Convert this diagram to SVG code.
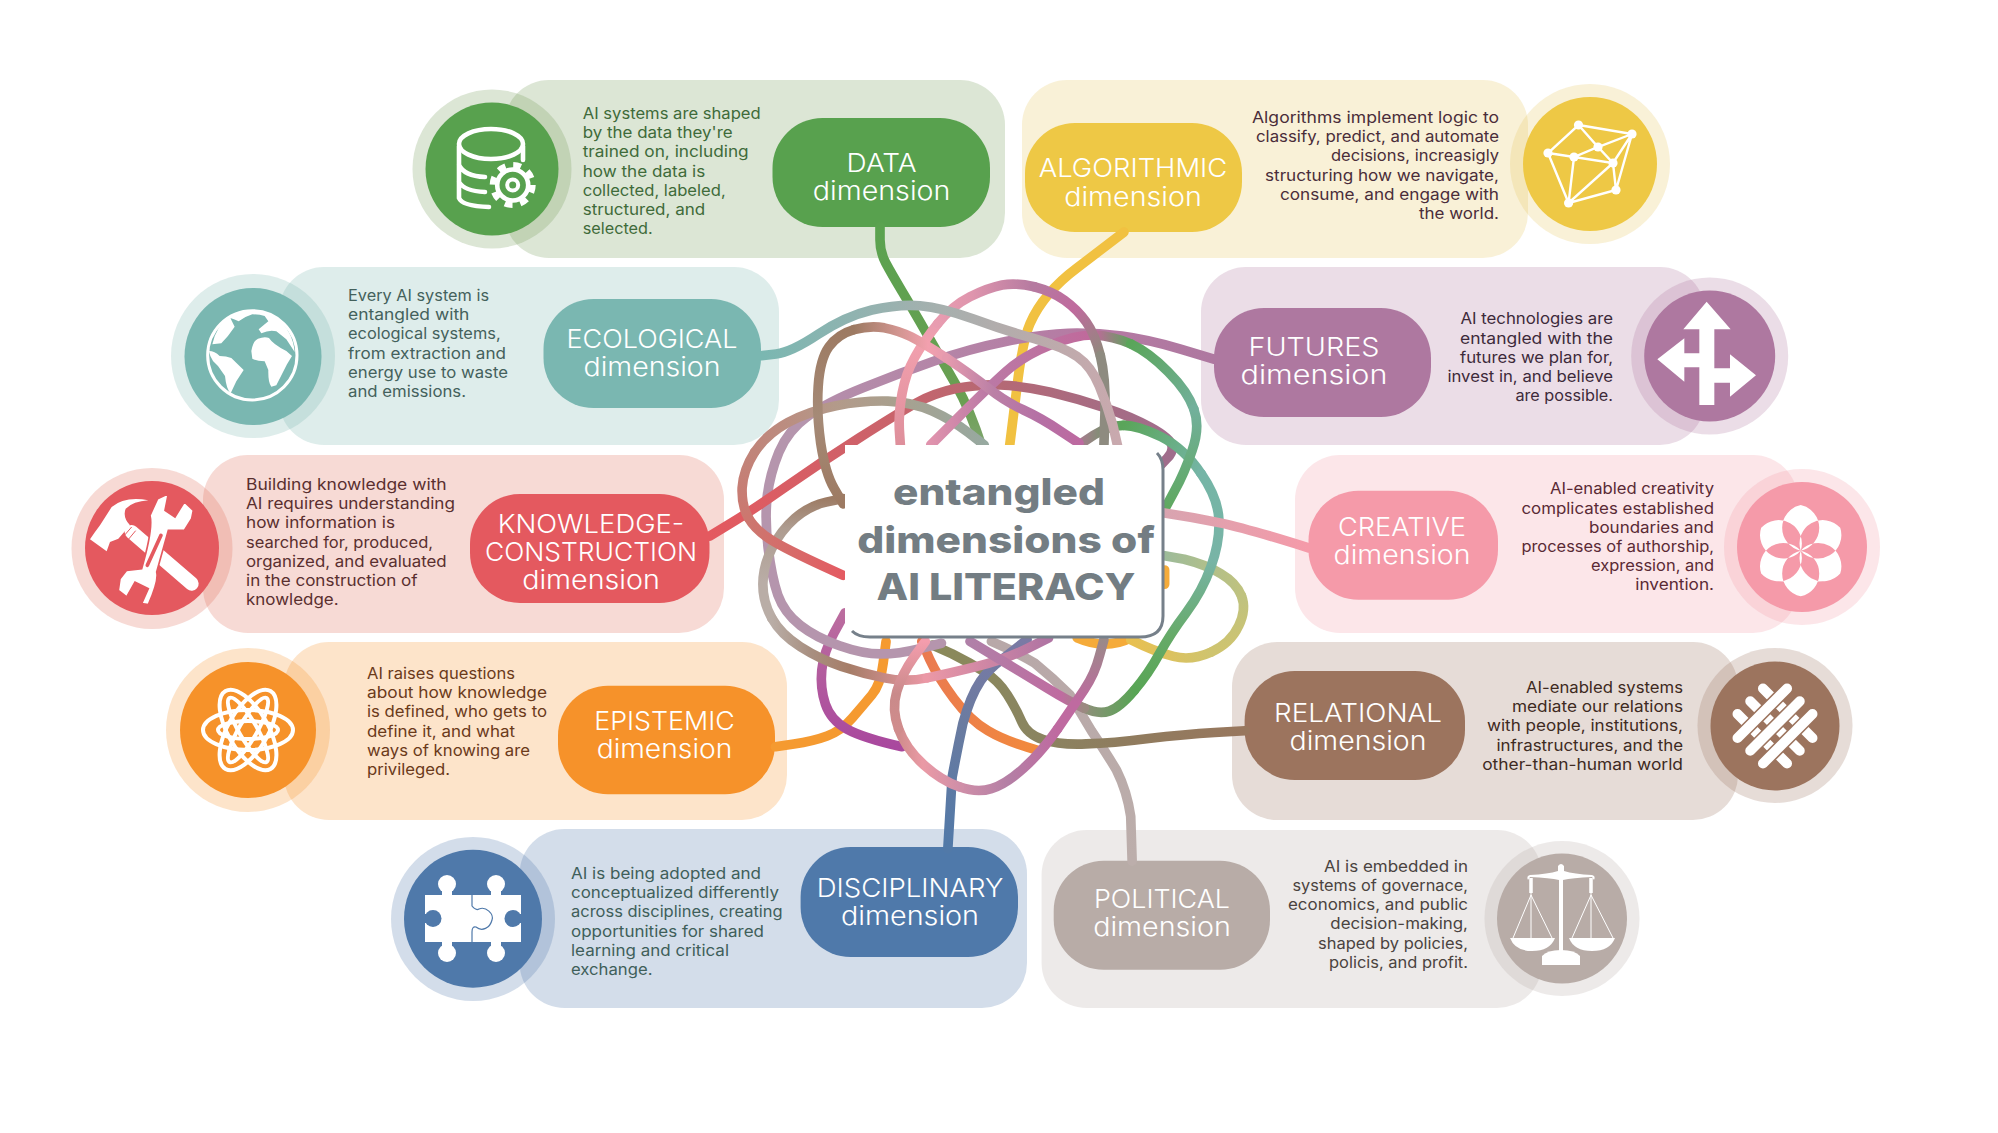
<svg xmlns="http://www.w3.org/2000/svg" width="1998" height="1133" viewBox="0 0 1998 1133">
<style>
.pn{fill-opacity:.25}
.w{fill:#fff}
.ws{fill:none;stroke:#fff}
.b{font-family:Inter,"Liberation Sans",sans-serif;font-size:15.5px;font-weight:400}
.p{font-family:Inter,"Liberation Sans",sans-serif;font-size:26px;font-weight:300;fill:#fff;text-anchor:middle}
.e{text-anchor:end}
.c{fill:none;stroke-width:27;stroke-linecap:round;stroke-linejoin:round}
.t{font-family:Inter,"Liberation Sans",sans-serif;font-size:37px;font-weight:800;fill:#737d83;text-anchor:middle}
</style>
<defs>
<linearGradient id="gData" gradientUnits="userSpaceOnUse" x1="0" y1="-120" x2="0" y2="490"><stop offset="0" stop-color="#5aa24f"/><stop offset=".8" stop-color="#6a9f52"/><stop offset="1" stop-color="#7fa56e"/></linearGradient>
<linearGradient id="gEco" gradientUnits="userSpaceOnUse" x1="115" y1="0" x2="1115" y2="0"><stop offset="0" stop-color="#7ab7b1"/><stop offset=".25" stop-color="#8fb3b0"/><stop offset=".5" stop-color="#a6b0ae"/><stop offset=".75" stop-color="#b8abab"/><stop offset="1" stop-color="#c9a9ae"/></linearGradient>
<linearGradient id="gFut" gradientUnits="userSpaceOnUse" x1="1385" y1="0" x2="245" y2="0"><stop offset="0" stop-color="#ae78a0"/><stop offset=".3" stop-color="#b57aa3"/><stop offset="1" stop-color="#b48fab"/></linearGradient>
<linearGradient id="m1" gradientUnits="userSpaceOnUse" x1="590" y1="0" x2="1050" y2="0"><stop offset="0" stop-color="#e093ad"/><stop offset=".35" stop-color="#bb79a5"/><stop offset="1" stop-color="#c0699b"/></linearGradient>
<linearGradient id="m2" gradientUnits="userSpaceOnUse" x1="1050" y1="0" x2="1150" y2="0"><stop offset="0" stop-color="#c0699b"/><stop offset="1" stop-color="#5aa55a"/></linearGradient>
<linearGradient id="m3" gradientUnits="userSpaceOnUse" x1="1150" y1="207" x2="1327" y2="390"><stop offset="0" stop-color="#5aa55a"/><stop offset="1" stop-color="#72b09b"/></linearGradient>
<linearGradient id="m4" gradientUnits="userSpaceOnUse" x1="0" y1="390" x2="0" y2="670"><stop offset="0" stop-color="#72b09b"/><stop offset="1" stop-color="#5fa860"/></linearGradient>
<linearGradient id="t1" gradientUnits="userSpaceOnUse" x1="1005" y1="0" x2="1130" y2="0"><stop offset="0" stop-color="#a87a8f"/><stop offset="1" stop-color="#5aa55a"/></linearGradient>
<linearGradient id="t2" gradientUnits="userSpaceOnUse" x1="1130" y1="435" x2="1347" y2="570"><stop offset="0" stop-color="#5aa55a"/><stop offset="1" stop-color="#75b5a6"/></linearGradient>
<linearGradient id="t3" gradientUnits="userSpaceOnUse" x1="0" y1="570" x2="0" y2="1177"><stop offset="0" stop-color="#75b5a6"/><stop offset=".4" stop-color="#78b4a6"/><stop offset=".75" stop-color="#66aa68"/><stop offset="1" stop-color="#58a555"/></linearGradient>
<linearGradient id="t4" gradientUnits="userSpaceOnUse" x1="1160" y1="0" x2="1020" y2="0"><stop offset="0" stop-color="#58a555"/><stop offset="1" stop-color="#8f8f7a"/></linearGradient>
<linearGradient id="t5" gradientUnits="userSpaceOnUse" x1="1020" y1="0" x2="700" y2="0"><stop offset="0" stop-color="#9a8a80"/><stop offset=".2" stop-color="#bf6ba0"/><stop offset="1" stop-color="#b080a8"/></linearGradient>
<linearGradient id="p1" gradientUnits="userSpaceOnUse" x1="0" y1="490" x2="0" y2="150"><stop offset="0" stop-color="#de8f9b"/><stop offset=".85" stop-color="#f2a0ae"/><stop offset="1" stop-color="#e89cb0"/></linearGradient>
<linearGradient id="p2" gradientUnits="userSpaceOnUse" x1="610" y1="0" x2="880" y2="0"><stop offset="0" stop-color="#e89cb0"/><stop offset=".35" stop-color="#df95ad"/><stop offset="1" stop-color="#b57aa0"/></linearGradient>
<linearGradient id="p3" gradientUnits="userSpaceOnUse" x1="880" y1="47" x2="1065" y2="240"><stop offset="0" stop-color="#b57aa0"/><stop offset=".45" stop-color="#c06a9e"/><stop offset="1" stop-color="#90897c"/></linearGradient>
<linearGradient id="q1" gradientUnits="userSpaceOnUse" x1="0" y1="1035" x2="0" y2="1285"><stop offset="0" stop-color="#9a8a88"/><stop offset=".7" stop-color="#bf6aa0"/><stop offset="1" stop-color="#bf6aa0"/></linearGradient>
<linearGradient id="q2" gradientUnits="userSpaceOnUse" x1="945" y1="0" x2="670" y2="0"><stop offset="0" stop-color="#bf6aa0"/><stop offset=".5" stop-color="#b47fa5"/><stop offset="1" stop-color="#d08fa8"/></linearGradient>
<linearGradient id="q3" gradientUnits="userSpaceOnUse" x1="670" y1="0" x2="500" y2="0"><stop offset="0" stop-color="#d08fa8"/><stop offset=".6" stop-color="#ea9aa5"/><stop offset="1" stop-color="#d08c8c"/></linearGradient>
<linearGradient id="q4" gradientUnits="userSpaceOnUse" x1="0" y1="1285" x2="0" y2="1040"><stop offset="0" stop-color="#d08c8c"/><stop offset=".4" stop-color="#c98a8a"/><stop offset="1" stop-color="#f49dad"/></linearGradient>
<linearGradient id="b1" gradientUnits="userSpaceOnUse" x1="0" y1="655" x2="0" y2="167"><stop offset="0" stop-color="#9d7a62"/><stop offset=".5" stop-color="#a58a77"/><stop offset="1" stop-color="#9d7a62"/></linearGradient>
<linearGradient id="b2" gradientUnits="userSpaceOnUse" x1="375" y1="0" x2="635" y2="0"><stop offset="0" stop-color="#9d7a62"/><stop offset=".5" stop-color="#d49692"/><stop offset=".8" stop-color="#f2a0ae"/><stop offset="1" stop-color="#e59aae"/></linearGradient>
<linearGradient id="b3" gradientUnits="userSpaceOnUse" x1="635" y1="0" x2="1005" y2="0"><stop offset="0" stop-color="#e59aae"/><stop offset=".35" stop-color="#bb80a6"/><stop offset=".7" stop-color="#b570a5"/><stop offset="1" stop-color="#bd69a0"/></linearGradient>
<linearGradient id="r1" gradientUnits="userSpaceOnUse" x1="740" y1="0" x2="97" y2="0"><stop offset="0" stop-color="#97a9a0"/><stop offset=".4" stop-color="#a9a08e"/><stop offset=".65" stop-color="#b39a8a"/><stop offset="1" stop-color="#c0857a"/></linearGradient>
<linearGradient id="r2" gradientUnits="userSpaceOnUse" x1="0" y1="510" x2="0" y2="695"><stop offset="0" stop-color="#c0857a"/><stop offset="1" stop-color="#cc776f"/></linearGradient>
<linearGradient id="r3" gradientUnits="userSpaceOnUse" x1="80" y1="0" x2="345" y2="0"><stop offset="0" stop-color="#cc776f"/><stop offset="1" stop-color="#e45b62"/></linearGradient>
<linearGradient id="gKno" gradientUnits="userSpaceOnUse" x1="-29" y1="0" x2="1265" y2="0"><stop offset="0" stop-color="#e4595f"/><stop offset=".4" stop-color="#c9636b"/><stop offset=".58" stop-color="#b86872"/><stop offset=".8" stop-color="#a96b80"/><stop offset="1" stop-color="#a06d8c"/></linearGradient>
<linearGradient id="u1" gradientUnits="userSpaceOnUse" x1="0" y1="640" x2="0" y2="975"><stop offset="0" stop-color="#9d7c65"/><stop offset=".25" stop-color="#ae9c90"/><stop offset=".7" stop-color="#b9ada6"/></linearGradient>
<linearGradient id="u2" gradientUnits="userSpaceOnUse" x1="145" y1="0" x2="580" y2="0"><stop offset="0" stop-color="#b9ada6"/><stop offset=".25" stop-color="#a88f80"/><stop offset=".5" stop-color="#a67d68"/><stop offset="1" stop-color="#eb98a6"/></linearGradient>
<linearGradient id="u3" gradientUnits="userSpaceOnUse" x1="580" y1="0" x2="920" y2="0"><stop offset="0" stop-color="#eb98a6"/><stop offset="1" stop-color="#b074a3"/></linearGradient>
<linearGradient id="gPur" gradientUnits="userSpaceOnUse" x1="0" y1="960" x2="0" y2="1335"><stop offset="0" stop-color="#bb6d9f"/><stop offset=".5" stop-color="#b25a9e"/><stop offset="1" stop-color="#a9489e"/></linearGradient>
<linearGradient id="gCor" gradientUnits="userSpaceOnUse" x1="565" y1="0" x2="890" y2="0"><stop offset="0" stop-color="#ea7a50"/><stop offset="1" stop-color="#f28a3c"/></linearGradient>
<linearGradient id="gRel" gradientUnits="userSpaceOnUse" x1="1470" y1="0" x2="595" y2="0"><stop offset="0" stop-color="#98775e"/><stop offset=".4" stop-color="#8f7c5e"/><stop offset=".7" stop-color="#8a8560"/><stop offset="1" stop-color="#8a8a5a"/></linearGradient>
<linearGradient id="gDis" gradientUnits="userSpaceOnUse" x1="0" y1="1620" x2="0" y2="1035"><stop offset="0" stop-color="#5179a8"/><stop offset=".6" stop-color="#6a7ba0"/><stop offset="1" stop-color="#7a7aa5"/></linearGradient>
<linearGradient id="gPol" gradientUnits="userSpaceOnUse" x1="0" y1="1655" x2="0" y2="1040"><stop offset="0" stop-color="#bcaeab"/><stop offset="1" stop-color="#b8a8a8"/></linearGradient>
<linearGradient id="y1" gradientUnits="userSpaceOnUse" x1="1245" y1="0" x2="1460" y2="0"><stop offset="0" stop-color="#9dbb9a"/><stop offset="1" stop-color="#bfc27f"/></linearGradient>
<linearGradient id="y2" gradientUnits="userSpaceOnUse" x1="0" y1="912" x2="0" y2="1070"><stop offset="0" stop-color="#bfc27f"/><stop offset="1" stop-color="#cfc46f"/></linearGradient>
<linearGradient id="y3" gradientUnits="userSpaceOnUse" x1="1375" y1="0" x2="1150" y2="0"><stop offset="0" stop-color="#cfc46f"/><stop offset="1" stop-color="#e8c050"/></linearGradient>
<linearGradient id="gCre" gradientUnits="userSpaceOnUse" x1="1648" y1="0" x2="1240" y2="0"><stop offset="0" stop-color="#f59aa9"/><stop offset="1" stop-color="#d8a4b0"/></linearGradient>
</defs>

<g id="node-data" fill="#58a14e">
<rect class="pn" fill="#739b57" x="504" y="80" width="501" height="178" rx="45"/>
<circle class="pn" fill="#739b57" cx="492" cy="169" r="79.5"/>
<circle cx="492" cy="169" r="66.5"/>
<g class="ws" stroke-width="4.6" stroke-linecap="round">
<ellipse cx="491" cy="144" rx="32" ry="15"/>
<path d="M523 146V160M459 146V198Q462 206 489 207M459 165Q464 176 485 177M459 182Q464 191 485 192"/>
<circle cx="512.7" cy="185" r="15.5"/>
<circle cx="512.7" cy="185" r="5.5" stroke-width="4"/>
<circle cx="512.7" cy="185" r="20" stroke-width="6" stroke-dasharray="7.8 7.9" stroke-linecap="butt"/>
</g>
<rect x="772.5" y="118" width="217.5" height="109" rx="50"/>
<text class="p" x="881.6" y="172" textLength="70" lengthAdjust="spacingAndGlyphs">DATA</text>
<text class="p" x="881.6" y="200" textLength="137.6" lengthAdjust="spacingAndGlyphs">dimension</text>
<g class="b" fill="#3f6b3a">
<text x="582.7" y="119" textLength="178" lengthAdjust="spacingAndGlyphs">AI systems are shaped</text>
<text x="582.7" y="138.2" textLength="150" lengthAdjust="spacingAndGlyphs">by the data they're</text>
<text x="582.7" y="157.4" textLength="166" lengthAdjust="spacingAndGlyphs">trained on, including</text>
<text x="582.7" y="176.6" textLength="122.6" lengthAdjust="spacingAndGlyphs">how the data is</text>
<text x="582.7" y="195.8" textLength="143" lengthAdjust="spacingAndGlyphs">collected, labeled,</text>
<text x="582.7" y="215" textLength="122.6" lengthAdjust="spacingAndGlyphs">structured, and</text>
<text x="582.7" y="234.2" textLength="70" lengthAdjust="spacingAndGlyphs">selected.</text>
</g>
</g>

<g id="node-algorithmic" fill="#eec845">
<rect class="pn" fill="#e7c75f" x="1022" y="80" width="506" height="178" rx="45"/>
<circle class="pn" fill="#e7c75f" cx="1590" cy="164" r="80"/>
<circle cx="1590" cy="164" r="67"/>
<g class="ws" stroke-width="2.4">
<path d="M1578.5 125L1632 134L1616 190L1568.6 203L1548 153ZM1578.5 125L1598 147L1632 134M1548 153L1574 157L1598 147L1613 163L1632 134M1574 157L1613 163L1616 190M1574 157L1568.6 203L1613 163"/>
</g>
<g class="w">
<circle cx="1578.5" cy="125" r="4.6"/><circle cx="1632" cy="134" r="4.6"/><circle cx="1548" cy="153" r="4.6"/><circle cx="1598" cy="147" r="4.6"/><circle cx="1574" cy="157" r="4.6"/><circle cx="1613" cy="163" r="4.6"/><circle cx="1616" cy="190" r="4.6"/><circle cx="1568.6" cy="203" r="4.6"/>
</g>
<rect x="1025" y="123" width="217" height="109" rx="50"/>
<text class="p" x="1133" y="177" textLength="188.6" lengthAdjust="spacingAndGlyphs">ALGORITHMIC</text>
<text class="p" x="1133" y="205.5" textLength="137.6" lengthAdjust="spacingAndGlyphs">dimension</text>
<g class="b e" fill="#4a2d3a">
<text x="1499" y="123" textLength="247" lengthAdjust="spacingAndGlyphs">Algorithms implement logic to</text>
<text x="1499" y="142.2" textLength="243" lengthAdjust="spacingAndGlyphs">classify, predict, and automate</text>
<text x="1499" y="161.4" textLength="168" lengthAdjust="spacingAndGlyphs">decisions, increasigly</text>
<text x="1499" y="180.6" textLength="234" lengthAdjust="spacingAndGlyphs">structuring how we navigate,</text>
<text x="1499" y="199.8" textLength="219" lengthAdjust="spacingAndGlyphs">consume, and engage with</text>
<text x="1499" y="219" textLength="80" lengthAdjust="spacingAndGlyphs">the world.</text>
</g>
</g>

<g id="node-ecological" fill="#7ab7b1">
<rect class="pn" x="279" y="267" width="500" height="178" rx="45"/>
<circle class="pn" cx="253" cy="356" r="82"/>
<circle cx="253" cy="356.5" r="68.5"/>
<g transform="translate(193 296) scale(.3333)">
<circle class="ws" cx="178" cy="178" r="134" stroke-width="9"/>
<path class="w" d="M58 145L85 142Q105 122 125 92L112 66Q125 70 137 76Q155 62 178 55Q200 55 215 60L226 76L197 100L205 112Q230 100 250 106L280 130L305 168Q300 105 250 65Q180 25 110 60Q70 90 58 145Z"/>
<path class="w" d="M48 165Q65 165 80 180Q100 180 115 186L152 222L130 256L113 292Q100 280 96 240L75 210L60 195Q50 180 48 165Z"/>
<path class="w" d="M175 165Q180 135 195 128Q215 120 228 126Q240 145 280 165L297 180L282 205L250 268L235 272Q225 260 226 222L215 196Q190 195 178 188Z"/>
</g>
<rect x="543.5" y="299" width="217.5" height="109" rx="50"/>
<text class="p" x="652" y="347.7" textLength="171" lengthAdjust="spacingAndGlyphs">ECOLOGICAL</text>
<text class="p" x="652" y="375.7" textLength="137" lengthAdjust="spacingAndGlyphs">dimension</text>
<g class="b" fill="#44615c">
<text x="348" y="301" textLength="141" lengthAdjust="spacingAndGlyphs">Every AI system is</text>
<text x="348" y="320.2" textLength="121.4" lengthAdjust="spacingAndGlyphs">entangled with</text>
<text x="348" y="339.4" textLength="152.6" lengthAdjust="spacingAndGlyphs">ecological systems,</text>
<text x="348" y="358.6" textLength="158" lengthAdjust="spacingAndGlyphs">from extraction and</text>
<text x="348" y="377.8" textLength="160" lengthAdjust="spacingAndGlyphs">energy use to waste</text>
<text x="348" y="397" textLength="118" lengthAdjust="spacingAndGlyphs">and emissions.</text>
</g>
</g>

<g id="node-futures" fill="#ae78a0">
<rect class="pn" x="1201" y="267" width="504" height="178" rx="45"/>
<circle class="pn" cx="1709.7" cy="356" r="78.5"/>
<circle cx="1709.7" cy="356" r="65.5"/>
<path class="w" transform="translate(1625 270) scale(.3333)" d="M245 95L317 178H268V295H315V253L393 316L315 380V338H268V405H223V292H178V335L97 268L178 205V250H223V178H175Z"/>
<rect x="1214" y="308" width="217" height="109" rx="50"/>
<text class="p" x="1314" y="355.7" textLength="131" lengthAdjust="spacingAndGlyphs">FUTURES</text>
<text class="p" x="1314" y="383.5" textLength="147" lengthAdjust="spacingAndGlyphs">dimension</text>
<g class="b e" fill="#3d2a3a">
<text x="1613" y="324.3" textLength="152.6" lengthAdjust="spacingAndGlyphs">AI technologies are</text>
<text x="1613" y="343.5" textLength="153" lengthAdjust="spacingAndGlyphs">entangled with the</text>
<text x="1613" y="362.7" textLength="153" lengthAdjust="spacingAndGlyphs">futures we plan for,</text>
<text x="1613" y="381.9" textLength="165.6" lengthAdjust="spacingAndGlyphs">invest in, and believe</text>
<text x="1613" y="401.1" textLength="97.6" lengthAdjust="spacingAndGlyphs">are possible.</text>
</g>
</g>

<g id="node-knowledge" fill="#e4595f">
<rect class="pn" fill="#df6b57" x="203" y="455" width="521" height="178" rx="45"/>
<circle class="pn" fill="#df6b57" cx="152" cy="548.5" r="80.5"/>
<circle cx="152" cy="548" r="67"/>
<g transform="translate(85 482) scale(.3333)">
<path d="M140 150L320 305" stroke="#fff" stroke-width="42" stroke-linecap="round"/>
<path class="w" d="M15 172L30 150L45 130L80 75Q120 42 190 55Q145 58 122 80Q112 105 135 130L100 170L75 180L65 208Z"/>
<path d="M108 172L140 135M122 182L152 146" stroke="#e4595f" stroke-width="3" fill="none"/>
<path class="w" stroke="#e4595f" stroke-width="5" d="M195 100L218 50L250 35L240 85L270 105L298 60L325 85L320 110L298 145L250 145L215 270Q222 295 190 368L170 365L190 320L150 300L125 345L100 325L105 290L125 265L170 260Q205 140 195 100Z"/>
<path d="M228 160L187 250" stroke="#e4595f" stroke-width="11" stroke-linecap="round" fill="none"/>
</g>
<rect x="470" y="494" width="239.5" height="109" rx="50"/>
<text class="p" x="591" y="532.7" textLength="186.6" lengthAdjust="spacingAndGlyphs">KNOWLEDGE-</text>
<text class="p" x="591" y="560.7" textLength="212" lengthAdjust="spacingAndGlyphs">CONSTRUCTION</text>
<text class="p" x="591" y="588.7" textLength="137.7" lengthAdjust="spacingAndGlyphs">dimension</text>
<g class="b" fill="#5a2f2f">
<text x="246" y="490" textLength="200.7" lengthAdjust="spacingAndGlyphs">Building knowledge with</text>
<text x="246" y="509.2" textLength="209" lengthAdjust="spacingAndGlyphs">AI requires understanding</text>
<text x="246" y="528.4" textLength="149" lengthAdjust="spacingAndGlyphs">how information is</text>
<text x="246" y="547.6" textLength="187" lengthAdjust="spacingAndGlyphs">searched for, produced,</text>
<text x="246" y="566.8" textLength="200.7" lengthAdjust="spacingAndGlyphs">organized, and evaluated</text>
<text x="246" y="586" textLength="171.6" lengthAdjust="spacingAndGlyphs">in the construction of</text>
<text x="246" y="605.2" textLength="92.6" lengthAdjust="spacingAndGlyphs">knowledge.</text>
</g>
</g>

<g id="node-creative" fill="#f59aa9">
<rect class="pn" x="1295" y="455" width="503" height="178" rx="45"/>
<circle class="pn" cx="1802" cy="547" r="78"/>
<circle cx="1802" cy="547" r="65"/>
<path class="w" fill-rule="evenodd" transform="translate(1800.7 550.7) scale(.3333)" d="M0 0A70 70 0 0 1 0 -137A70 70 0 0 1 0 0ZM0 0A70 70 0 0 1 118.6 -68.5A70 70 0 0 1 0 0ZM0 0A70 70 0 0 1 118.6 68.5A70 70 0 0 1 0 0ZM0 0A70 70 0 0 1 0 137A70 70 0 0 1 0 0ZM0 0A70 70 0 0 1 -118.6 68.5A70 70 0 0 1 0 0ZM0 0A70 70 0 0 1 -118.6 -68.5A70 70 0 0 1 0 0Z"/>
<rect x="1308.5" y="490.7" width="189.5" height="109" rx="50"/>
<text class="p" x="1402" y="536" textLength="128" lengthAdjust="spacingAndGlyphs">CREATIVE</text>
<text class="p" x="1402" y="564" textLength="137" lengthAdjust="spacingAndGlyphs">dimension</text>
<g class="b e" fill="#5a2a35">
<text x="1714" y="494.3" textLength="164" lengthAdjust="spacingAndGlyphs">AI-enabled creativity</text>
<text x="1714" y="513.5" textLength="192.6" lengthAdjust="spacingAndGlyphs">complicates established</text>
<text x="1714" y="532.7" textLength="125" lengthAdjust="spacingAndGlyphs">boundaries and</text>
<text x="1714" y="551.9" textLength="192.6" lengthAdjust="spacingAndGlyphs">processes of authorship,</text>
<text x="1714" y="571.1" textLength="123" lengthAdjust="spacingAndGlyphs">expression, and</text>
<text x="1714" y="590.3" textLength="78.7" lengthAdjust="spacingAndGlyphs">invention.</text>
</g>
</g>

<g id="node-epistemic" fill="#f6922a">
<rect class="pn" x="284" y="642" width="503" height="178" rx="45"/>
<circle class="pn" cx="248" cy="730" r="82"/>
<circle cx="248" cy="730" r="68"/>
<g class="ws" stroke-width="4" transform="translate(248 730)">
<ellipse rx="45" ry="20"/>
<ellipse rx="45" ry="20" transform="rotate(60)"/>
<ellipse rx="45" ry="20" transform="rotate(120)"/>
<ellipse rx="37" ry="9" transform="rotate(60)"/>
<ellipse rx="37" ry="9" transform="rotate(120)"/>
<ellipse rx="30" ry="9"/>
</g>
<rect x="558" y="685.7" width="217" height="108.5" rx="50"/>
<text class="p" x="664.5" y="730" textLength="140.6" lengthAdjust="spacingAndGlyphs">EPISTEMIC</text>
<text class="p" x="664.5" y="758" textLength="135.7" lengthAdjust="spacingAndGlyphs">dimension</text>
<g class="b" fill="#6b3a1a">
<text x="367" y="679" textLength="148" lengthAdjust="spacingAndGlyphs">AI raises questions</text>
<text x="367" y="698.2" textLength="180" lengthAdjust="spacingAndGlyphs">about how knowledge</text>
<text x="367" y="717.4" textLength="180" lengthAdjust="spacingAndGlyphs">is defined, who gets to</text>
<text x="367" y="736.6" textLength="148" lengthAdjust="spacingAndGlyphs">define it, and what</text>
<text x="367" y="755.8" textLength="163" lengthAdjust="spacingAndGlyphs">ways of knowing are</text>
<text x="367" y="775" textLength="83" lengthAdjust="spacingAndGlyphs">privileged.</text>
</g>
</g>

<g id="node-relational" fill="#9c745e">
<rect class="pn" x="1232" y="642" width="506" height="178" rx="45"/>
<circle class="pn" cx="1775" cy="725.5" r="77.5"/>
<circle cx="1775" cy="726" r="64.5"/>
<g transform="translate(1775 726) rotate(45)" fill="none" stroke-linecap="round">
<path d="M-35 -18H35M-35 0H35M-35 18H35" stroke="#fff" stroke-width="10"/>
<path d="M-18 -35V35M0 -35V35M18 -35V35" stroke="#9c745e" stroke-width="13"/>
<path d="M-18 -35V35M0 -35V35M18 -35V35" stroke="#fff" stroke-width="10"/>
</g>
<rect x="1244.6" y="671" width="220.4" height="109" rx="50"/>
<text class="p" x="1358" y="721.7" textLength="168" lengthAdjust="spacingAndGlyphs">RELATIONAL</text>
<text class="p" x="1358" y="750" textLength="137" lengthAdjust="spacingAndGlyphs">dimension</text>
<g class="b e" fill="#3e2a22">
<text x="1683" y="693" textLength="157" lengthAdjust="spacingAndGlyphs">AI-enabled systems</text>
<text x="1683" y="712.2" textLength="171" lengthAdjust="spacingAndGlyphs">mediate our relations</text>
<text x="1683" y="731.4" textLength="196" lengthAdjust="spacingAndGlyphs">with people, institutions,</text>
<text x="1683" y="750.6" textLength="186.5" lengthAdjust="spacingAndGlyphs">infrastructures, and the</text>
<text x="1683" y="769.8" textLength="200.8" lengthAdjust="spacingAndGlyphs">other-than-human world</text>
</g>
</g>

<g id="node-disciplinary" fill="#4f79aa">
<rect class="pn" x="519.6" y="829" width="507.4" height="179" rx="45"/>
<circle class="pn" cx="473" cy="919" r="82"/>
<circle cx="473" cy="918.7" r="69"/>
<g class="w">
<rect x="425" y="895" width="96" height="47"/>
<circle cx="447" cy="884" r="9"/><rect x="442" y="884" width="10" height="12"/>
<circle cx="447" cy="953" r="9"/><rect x="442" y="940" width="10" height="12"/>
<circle cx="496" cy="884" r="9"/><rect x="491" y="884" width="10" height="12"/>
<circle cx="496" cy="953" r="9"/><rect x="491" y="940" width="10" height="12"/>
</g>
<circle cx="433" cy="918.5" r="8.5"/><rect x="423" y="914" width="8" height="9"/>
<circle cx="513" cy="918.5" r="8.5"/><rect x="515" y="914" width="8" height="9"/>
<path d="M472 895V906Q476 911 479 909C486 906 494 914 492 920C490 928 482 932 476 927Q472 926 472 932V942" fill="none" stroke="#4f79aa" stroke-width="1.2"/>
<rect x="800.6" y="847" width="217.4" height="110" rx="50"/>
<text class="p" x="910" y="897" textLength="186.5" lengthAdjust="spacingAndGlyphs">DISCIPLINARY</text>
<text class="p" x="910" y="925" textLength="138" lengthAdjust="spacingAndGlyphs">dimension</text>
<g class="b" fill="#3f5f5a">
<text x="571" y="879" textLength="190" lengthAdjust="spacingAndGlyphs">AI is being adopted and</text>
<text x="571" y="898.2" textLength="208" lengthAdjust="spacingAndGlyphs">conceptualized differently</text>
<text x="571" y="917.4" textLength="211.6" lengthAdjust="spacingAndGlyphs">across disciplines, creating</text>
<text x="571" y="936.6" textLength="193" lengthAdjust="spacingAndGlyphs">opportunities for shared</text>
<text x="571" y="955.8" textLength="158" lengthAdjust="spacingAndGlyphs">learning and critical</text>
<text x="571" y="975" textLength="81.5" lengthAdjust="spacingAndGlyphs">exchange.</text>
</g>
</g>

<g id="node-political" fill="#b8aca7">
<rect class="pn" x="1041.6" y="830" width="500.4" height="178" rx="45"/>
<circle class="pn" cx="1562" cy="918.5" r="77.5"/>
<circle cx="1562" cy="918.5" r="65"/>
<g class="w">
<path d="M1559 952V880Q1550 878 1530 877L1528 880Q1526 876 1530 875Q1548 874 1558 871V866Q1561 862 1564 866V871Q1574 874 1592 875Q1596 876 1594 880L1592 877Q1572 878 1563 880V952Z"/>
<path d="M1510 938H1555Q1550 951 1532 951Q1515 951 1510 938Z"/>
<path d="M1569 938H1615Q1610 951 1592 951Q1574 951 1569 938Z"/>
<path d="M1542 956Q1547 950 1561 950Q1575 950 1580 956V965H1542Z"/>
</g>
<path d="M1531 878V895M1591 878V895M1531 895L1513 938M1531 895L1552 938M1531 895V938M1591 895L1572 938M1591 895L1613 938M1591 895V938" stroke="#fff" fill="none" stroke-width="1"/>
<path d="M1531 878V893M1591 878V893" stroke="#fff" fill="none" stroke-width="3.5"/>
<rect x="1053.7" y="860.7" width="216.3" height="109" rx="50"/>
<text class="p" x="1162" y="908" textLength="136" lengthAdjust="spacingAndGlyphs">POLITICAL</text>
<text class="p" x="1162" y="936" textLength="137.7" lengthAdjust="spacingAndGlyphs">dimension</text>
<g class="b e" fill="#4a4340">
<text x="1468" y="871.7" textLength="144" lengthAdjust="spacingAndGlyphs">AI is embedded in</text>
<text x="1468" y="890.9" textLength="175.5" lengthAdjust="spacingAndGlyphs">systems of governace,</text>
<text x="1468" y="910.1" textLength="180" lengthAdjust="spacingAndGlyphs">economics, and public</text>
<text x="1468" y="929.3" textLength="137.7" lengthAdjust="spacingAndGlyphs">decision-making,</text>
<text x="1468" y="948.5" textLength="150" lengthAdjust="spacingAndGlyphs">shaped by policies,</text>
<text x="1468" y="967.7" textLength="139" lengthAdjust="spacingAndGlyphs">policis, and profit.</text>
</g>
</g>

<g id="connectors" transform="translate(720 270) scale(.35714)">
<path class="c" stroke="#f5ab3a" d="M1000 1030Q1080 1065 1150 1030M1245 840V880"/>
<path id="c-data" class="c" stroke="url(#gData)" d="M448 -120L448 -85Q448 -50 464 -20Q480 10 510 60Q540 110 580 180L660 320Q700 390 735 500"/>
<path id="c-algorithmic" class="c" stroke="#f1c141" d="M1131 -106L1000 -6Q905 65 868 150Q850 190 835 300L810 500"/>
<path id="c-political" class="c" stroke="url(#gPol)" d="M1154 1655L1150 1530Q1140 1460 1110 1400Q1080 1350 1040 1290Q1010 1240 980 1190Q935 1145 880 1100Q830 1070 760 1040"/>
<path id="c-relational" class="c" stroke="url(#gRel)" d="M1470 1290L1385 1295Q1300 1300 1200 1312Q1100 1325 1025 1327Q950 1330 905 1315Q860 1300 845 1265Q830 1230 805 1190Q780 1150 740 1125Q700 1100 650 1075L595 1050"/>
<path class="c" stroke="url(#gCor)" d="M565 1040L587 1090Q610 1140 655 1200Q700 1260 750 1290Q800 1320 890 1345"/>
<path id="c-disciplinary" class="c" stroke="url(#gDis)" d="M638 1620L650 1420Q665 1340 680 1270Q700 1195 730 1150Q755 1115 790 1090L860 1035"/>
<path id="c-epistemic" class="c" stroke="#f59a30" d="M155 1335L207 1327Q260 1320 300 1305Q340 1290 370 1255Q400 1220 425 1190Q450 1160 457 1100L465 1040"/>
<path class="c" stroke="url(#gPur)" d="M350 960L320 1015Q290 1070 285 1120Q280 1170 295 1215Q310 1260 355 1285Q400 1310 510 1335"/>
<g id="c-futures">
<path class="c" stroke="url(#gFut)" d="M1385 250L1292 222Q1200 195 1125 185Q1050 175 975 177Q900 180 800 200Q700 220 600 255Q500 290 400 330Q300 370 245 410"/>
<path class="c" stroke="#b595ad" d="M245 410Q190 450 165 510Q140 570 132 635Q125 700 135 780Q145 860 162 910Q180 960 225 995Q270 1030 335 1052Q400 1075 450 1075Q500 1075 560 1060L620 1045"/>
</g>
<g>
<path class="c" stroke="url(#u1)" d="M345 640L297 650Q250 660 210 695Q170 730 145 780Q120 830 120 880Q120 930 145 975"/>
<path class="c" stroke="url(#u2)" d="M145 975Q170 1020 225 1055Q280 1090 340 1110Q400 1130 460 1142Q520 1155 580 1142"/>
<path class="c" stroke="url(#u3)" d="M580 1142Q640 1130 720 1110Q800 1090 860 1060L920 1030"/>
</g>
<path id="c-knowledge" class="c" stroke="url(#gKno)" d="M-29 745L25 712Q80 680 180 610Q280 540 390 470Q500 400 550 372Q600 345 660 332Q720 320 785 322Q850 325 925 342Q1000 360 1075 385Q1150 410 1205 440Q1260 470 1265 490Q1270 510 1252 527L1235 545"/>
<g>
<path class="c" stroke="url(#r1)" d="M740 490L695 455Q650 420 595 395Q540 370 470 367Q400 365 325 380Q250 395 190 427Q130 460 97 510"/>
<path class="c" stroke="url(#r2)" d="M97 510Q65 560 62 610Q60 660 80 695"/>
<path class="c" stroke="url(#r3)" d="M80 695Q100 730 150 760Q200 790 345 855"/>
</g>
<g>
<path class="c" stroke="url(#y1)" d="M1245 800L1300 810Q1360 825 1402 850Q1445 875 1460 912"/>
<path class="c" stroke="url(#y2)" d="M1460 912Q1475 950 1452 997Q1430 1045 1375 1070"/>
<path class="c" stroke="url(#y3)" d="M1375 1070Q1320 1095 1270 1082Q1220 1070 1150 1035"/>
</g>
<g>
<path class="c" stroke="url(#t1)" d="M1005 490L1047 462Q1090 435 1130 435"/>
<path class="c" stroke="url(#t2)" d="M1130 435Q1170 435 1235 467Q1300 500 1347 570"/>
<path class="c" stroke="url(#t3)" d="M1347 570Q1395 640 1397 700Q1400 760 1375 830Q1350 900 1305 960Q1260 1020 1230 1075Q1200 1130 1160 1177"/>
<path class="c" stroke="url(#t4)" d="M1160 1177Q1120 1225 1090 1235Q1060 1245 1020 1227"/>
<path class="c" stroke="url(#t5)" d="M1020 1227Q980 1210 915 1170Q850 1130 775 1085L700 1040"/>
</g>
<g>
<path class="c" stroke="url(#m1)" d="M590 490L670 410Q750 330 800 285Q850 240 925 210Q1000 180 1050 182"/>
<path class="c" stroke="url(#m2)" d="M1050 182Q1100 185 1150 207"/>
<path class="c" stroke="url(#m3)" d="M1150 207Q1200 230 1255 285Q1310 340 1327 390"/>
<path class="c" stroke="url(#m4)" d="M1327 390Q1345 440 1322 505Q1300 570 1272 620L1245 670"/>
</g>
<path id="c-creative" class="c" stroke="url(#gCre)" d="M1648 778Q1480 725 1400 708Q1320 692 1240 680"/>
<g>
<path class="c" stroke="url(#p1)" d="M505 490L502 445Q500 400 510 345Q520 290 545 245Q570 200 610 150"/>
<path class="c" stroke="url(#p2)" d="M610 150Q650 100 700 75Q750 50 790 42Q830 35 880 47"/>
<path class="c" stroke="url(#p3)" d="M880 47Q930 60 965 85Q1000 110 1025 145Q1050 180 1065 240"/>
<path class="c" stroke="#8e8b80" d="M1065 240Q1080 300 1078 395L1075 490"/>
</g>
<path id="c-ecological" class="c" stroke="url(#gEco)" d="M115 240L157 235Q200 230 275 180Q350 130 425 112Q500 95 560 100Q620 105 710 137Q800 170 880 192Q960 215 1000 242Q1040 270 1062 325Q1085 380 1100 435L1115 500"/>
<g>
<path class="c" stroke="url(#b1)" d="M345 655L320 612Q295 570 282 485Q270 400 275 325Q280 250 305 215Q330 180 375 167"/>
<path class="c" stroke="url(#b2)" d="M375 167Q420 155 460 162Q500 170 535 187Q570 205 635 247"/>
<path class="c" stroke="url(#b3)" d="M635 247Q700 290 750 330Q800 370 850 392Q900 415 952 450L1005 485"/>
</g>
<g>
<path class="c" stroke="url(#q1)" d="M1075 1035L1062 1082Q1050 1130 1020 1175Q990 1220 945 1285"/>
<path class="c" stroke="url(#q2)" d="M945 1285Q900 1350 850 1395Q800 1440 760 1452Q720 1465 670 1447"/>
<path class="c" stroke="url(#q3)" d="M670 1447Q620 1430 570 1385Q520 1340 500 1285"/>
<path class="c" stroke="url(#q4)" d="M500 1285Q480 1230 495 1180Q510 1130 542 1085L575 1040"/>
</g>
</g>

<g id="node-center">
<path fill="#fff" d="M845 445H1141Q1163 445 1163 467V616Q1163 638 1141 638H862Q850 636 845 628Z"/>
<path fill="none" stroke="#76808a" stroke-width="3" d="M1157 453Q1163 459 1163 470V616Q1163 637 1140 637H870Q858 637 852 631"/>
<text class="t" x="999" y="504.6" textLength="212" lengthAdjust="spacingAndGlyphs">entangled</text>
<text class="t" x="1006" y="553" textLength="297.5" lengthAdjust="spacingAndGlyphs">dimensions of</text>
<text class="t" x="1006" y="600" textLength="259" lengthAdjust="spacingAndGlyphs">AI LITERACY</text>
</g>
</svg>
